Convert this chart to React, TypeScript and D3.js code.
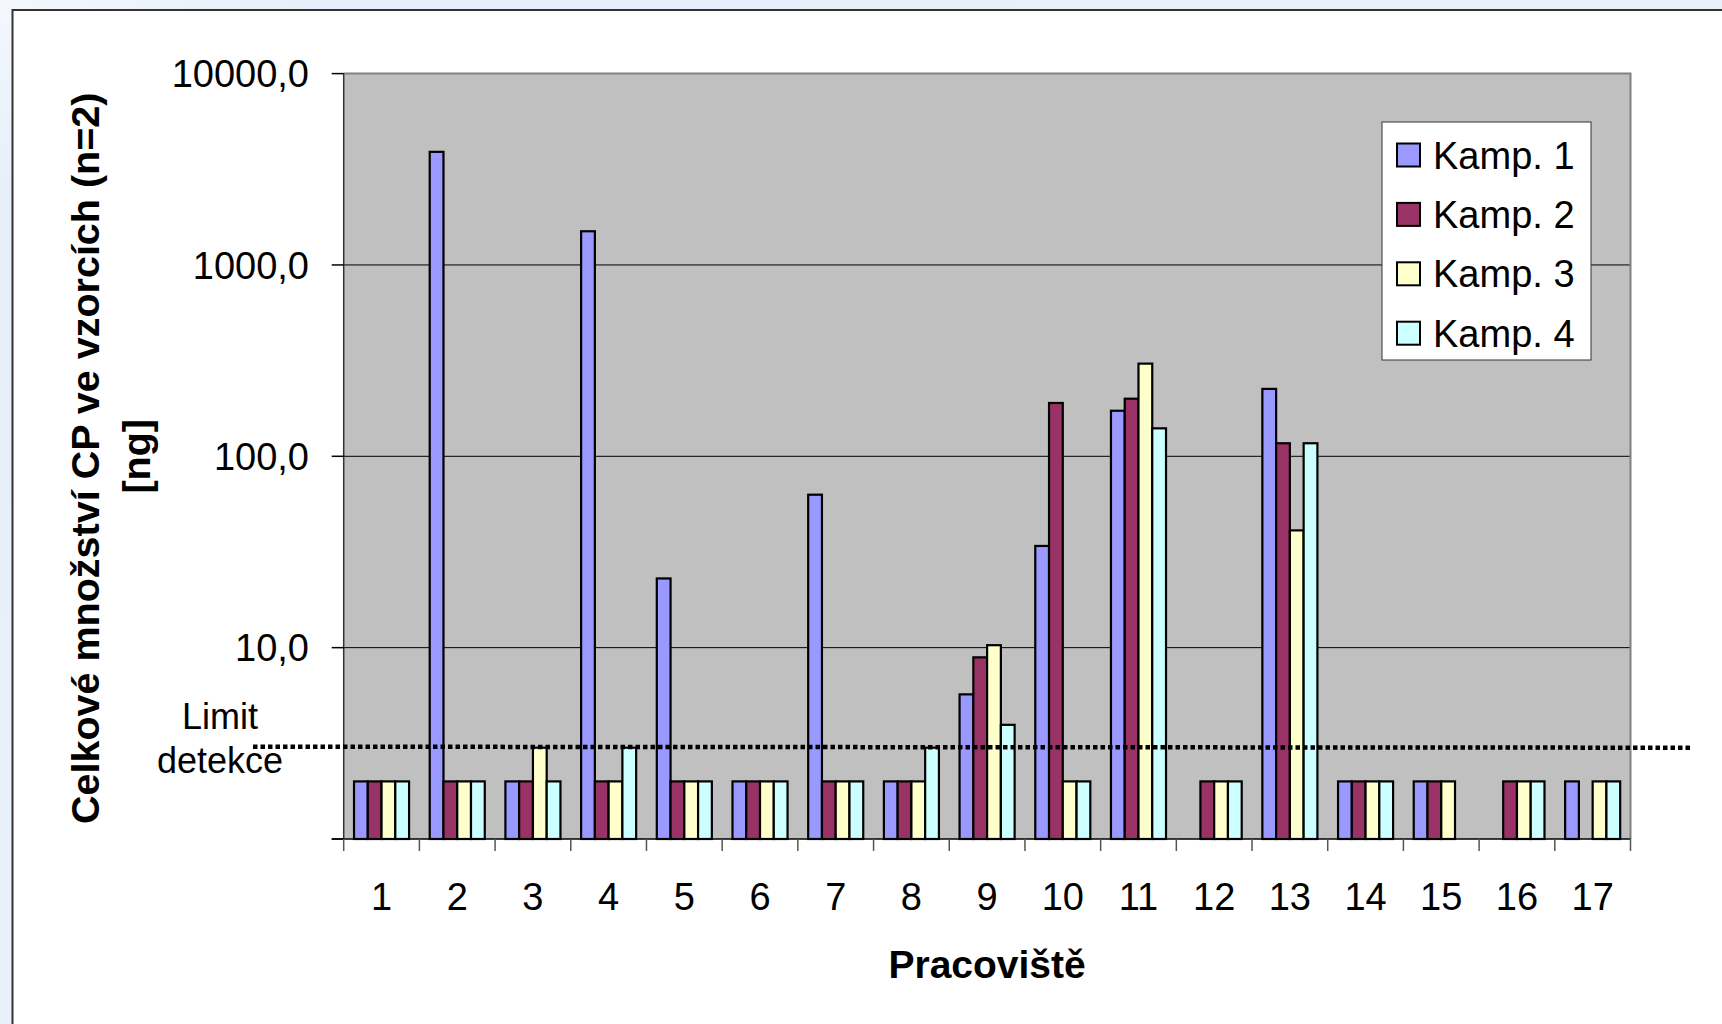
import React from "react";
import * as d3 from "d3";

const categories = ["1","2","3","4","5","6","7","8","9","10","11","12","13","14","15","16","17"];
const seriesNames = ["Kamp. 1", "Kamp. 2", "Kamp. 3", "Kamp. 4"];
const seriesColors = ["#9999FF", "#993366", "#FFFFCC", "#CCFFFF"];
const kamp1: (number | null)[] = [2, 3900, 2, 1500, 23, 2, 63, 2, 5.7, 34, 173, null, 225, 2, 2, null, 2];
const kamp2: (number | null)[] = [2, 2, 2, 2, 2, 2, 2, 2, 8.9, 190, 200, 2, 117, 2, 2, 2, null];
const kamp3: (number | null)[] = [2, 2, 3, 2, 2, 2, 2, 2, 10.3, 2, 305, 2, 41, 2, 2, 2, 2];
const kamp4: (number | null)[] = [2, 2, 2, 3, 2, 2, 2, 3, 3.95, 2, 140, 2, 117, 2, null, 2, 2];
const yTickValues = [10, 100, 1000, 10000];
const limitValue = 3;
const yTitleLines = ["Celkové množství CP ve vzorcích (n=2)", "[ng]"];
const xTitle = "Pracoviště";
const limitLabel = ["Limit", "detekce"];

const W = 1722;
const H = 1024;
const plot = { left: 343.7, right: 1630.5, top: 73.6, bottom: 839 };
const FONT = "'Liberation Sans', Arial, sans-serif";

export default function App() {
  const allSeries = [kamp1, kamp2, kamp3, kamp4];
  const x0 = d3.scaleBand<string>().domain(categories).range([plot.left, plot.right]).padding(0);
  const x1 = d3
    .scaleBand<string>()
    .domain(seriesNames)
    .range([0, x0.bandwidth()])
    .paddingInner(0)
    .paddingOuter(0.75);
  const y = d3.scaleLog().domain([1, 10000]).range([plot.bottom, plot.top]);
  const fmt = (v: number) => d3.format(".1f")(v).replace(".", ",");
  const yLim = y(limitValue);

  return (
    <div style={{ position: "absolute", left: 0, top: 0, width: W, height: H }}>
      <svg width={W} height={H} style={{ display: "block" }}>
        <defs>
          <linearGradient id="bgGrad" x1="0" y1="0" x2="1" y2="1">
            <stop offset="0" stopColor="#F4F8FD" />
            <stop offset="0.1" stopColor="#E6EEF9" />
            <stop offset="1" stopColor="#EEF4FB" />
          </linearGradient>
        </defs>
        <rect x={0} y={0} width={W} height={H} fill="url(#bgGrad)" />
        <rect x={12.5} y={10} width={W + 20} height={H + 20} fill="#FFFFFF" stroke="#333333" strokeWidth={2} />

        {/* plot area */}
        <rect
          x={plot.left}
          y={plot.top}
          width={plot.right - plot.left}
          height={plot.bottom - plot.top}
          fill="#C0C0C0"
        />
        {/* gridlines */}
        {yTickValues.slice(0, -1).map((v) => (
          <line key={"g" + v} x1={plot.left} x2={plot.right} y1={y(v)} y2={y(v)} stroke="#000" strokeWidth={1} />
        ))}
        {/* plot border top/right */}
        <polyline
          points={`${plot.left},${plot.top} ${plot.right},${plot.top} ${plot.right},${plot.bottom}`}
          fill="none"
          stroke="#808080"
          strokeWidth={2}
        />

        {/* bars */}
        {categories.map((c, ci) => (
          <g key={"c" + c} transform={`translate(${x0(c)},0)`}>
            {allSeries.map((s, si) => {
              const v = s[ci];
              if (v == null) return null;
              const bx = x1(seriesNames[si]) as number;
              const by = y(v);
              return (
                <rect
                  key={si}
                  x={bx}
                  y={by}
                  width={x1.bandwidth()}
                  height={plot.bottom - by}
                  fill={seriesColors[si]}
                  stroke="#000"
                  strokeWidth={2.2}
                />
              );
            })}
          </g>
        ))}

        {/* axes */}
        <line x1={plot.left} x2={plot.left} y1={plot.top} y2={plot.bottom} stroke="#333" strokeWidth={1.5} />
        <line x1={plot.left - 12} x2={plot.right} y1={plot.bottom} y2={plot.bottom} stroke="#000" strokeWidth={1.5} />
        {[1, ...yTickValues].map((v) => (
          <line key={"yt" + v} x1={plot.left - 12} x2={plot.left} y1={y(v)} y2={y(v)} stroke="#000" strokeWidth={1.5} />
        ))}
        {yTickValues.map((v) => (
          <text
            key={"yl" + v}
            x={309}
            y={y(v)}
            dy="0.36em"
            textAnchor="end"
            fontFamily={FONT}
            fontSize={38}
            fill="#000"
          >
            {fmt(v)}
          </text>
        ))}
        {categories.map((c) => (
          <line
            key={"xt" + c}
            x1={x0(c) as number}
            x2={x0(c) as number}
            y1={plot.bottom}
            y2={plot.bottom + 12}
            stroke="#555"
            strokeWidth={1.5}
          />
        ))}
        <line x1={plot.right} x2={plot.right} y1={plot.bottom} y2={plot.bottom + 12} stroke="#555" strokeWidth={1.5} />
        {categories.map((c) => (
          <text
            key={"xl" + c}
            x={(x0(c) as number) + x0.bandwidth() / 2}
            y={910}
            textAnchor="middle"
            fontFamily={FONT}
            fontSize={38}
            fill="#000"
          >
            {c}
          </text>
        ))}

        {/* limit line */}
        <line
          x1={253}
          x2={1691}
          y1={yLim - 1}
          y2={yLim}
          stroke="#000"
          strokeWidth={4.5}
          strokeDasharray="4.5 3"
        />
        <text x={220} y={729} textAnchor="middle" fontFamily={FONT} fontSize={36} fill="#000">
          {limitLabel[0]}
        </text>
        <text x={220} y={773} textAnchor="middle" fontFamily={FONT} fontSize={36} fill="#000">
          {limitLabel[1]}
        </text>

        {/* titles */}
        <text
          transform={`translate(${99},${(plot.top + plot.bottom) / 2 + 2}) rotate(-90)`}
          textAnchor="middle"
          fontFamily={FONT}
          fontWeight="bold"
          fontSize={39.5}
          fill="#000"
        >
          {yTitleLines[0]}
        </text>
        <text
          transform={`translate(${150},${(plot.top + plot.bottom) / 2}) rotate(-90)`}
          textAnchor="middle"
          fontFamily={FONT}
          fontWeight="bold"
          fontSize={39.5}
          fill="#000"
        >
          {yTitleLines[1]}
        </text>
        <text
          x={(plot.left + plot.right) / 2}
          y={978}
          textAnchor="middle"
          fontFamily={FONT}
          fontWeight="bold"
          fontSize={39}
          fill="#000"
        >
          {xTitle}
        </text>

        {/* legend */}
        <rect x={1382} y={122} width={209} height={238} fill="#FFFFFF" stroke="#333" strokeWidth={1} />
        {seriesNames.map((n, i) => {
          const cy = 155 + i * 59.4;
          return (
            <g key={"lg" + n}>
              <rect x={1397} y={cy - 11.5} width={23} height={23} fill={seriesColors[i]} stroke="#000" strokeWidth={2} />
              <text x={1433} y={cy + 13.5} fontFamily={FONT} fontSize={38} fill="#000">
                {n}
              </text>
            </g>
          );
        })}
      </svg>
    </div>
  );
}
